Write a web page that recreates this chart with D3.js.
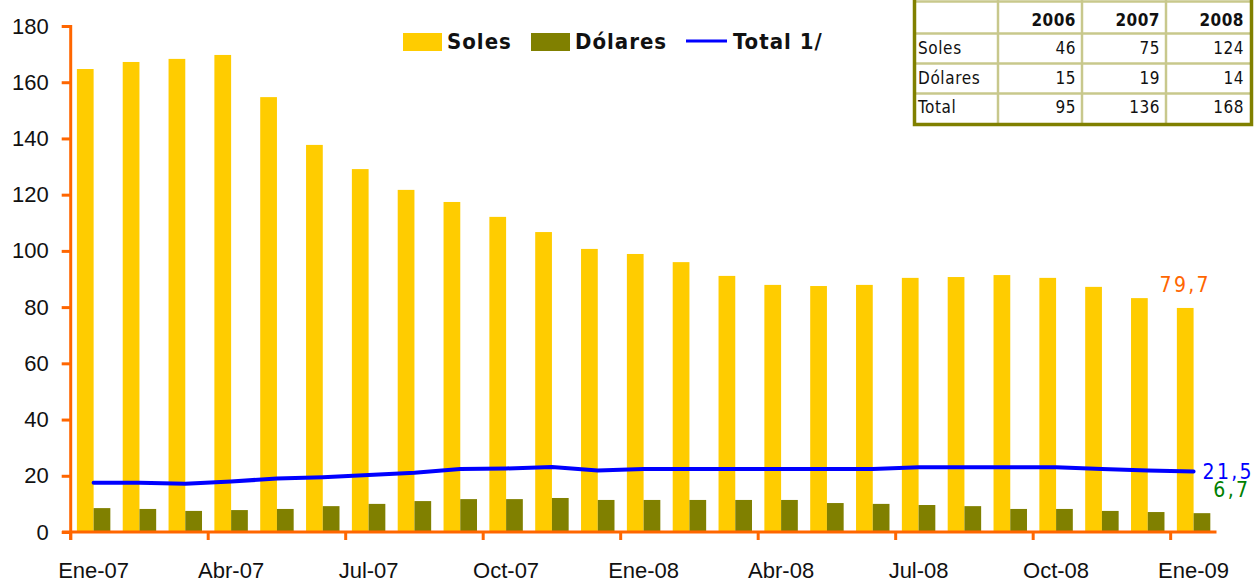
<!DOCTYPE html>
<html>
<head>
<meta charset="utf-8">
<script src="https://cdn.jsdelivr.net/npm/d3@7"></script>
<style>
    body { margin: 0; background: #fff; }
    svg { display: block; font-family: "DejaVu Sans Condensed", "DejaVu Sans", sans-serif; }
    .tick-label { font-size: 22px; fill: #111; }
    .legend-label { font-size: 22px; fill: #111; letter-spacing: 1px; }
    .end-label { font-size: 21px; letter-spacing: 2.3px; }
    .table-text { font-size: 17px; fill: #111; }
</style>
</head>
<body>
<div id="chart"></div>
<script>
// monthly balance, Ene-07 .. Ene-09
const months = ["Ene-07", "Feb-07", "Mar-07", "Abr-07", "May-07", "Jun-07", "Jul-07", "Ago-07", "Set-07",
    "Oct-07", "Nov-07", "Dic-07", "Ene-08", "Feb-08", "Mar-08", "Abr-08", "May-08", "Jun-08", "Jul-08",
    "Ago-08", "Set-08", "Oct-08", "Nov-08", "Dic-08", "Ene-09"];
const soles = [164.7, 167.2, 168.3, 169.7, 154.7, 137.7, 129.1, 121.7, 117.4, 112.1, 106.7, 100.7, 98.9,
    96.0, 91.1, 87.9, 87.5, 87.9, 90.4, 90.7, 91.4, 90.4, 87.2, 83.2, 79.7];
const dolares = [8.5, 8.2, 7.5, 7.8, 8.2, 9.2, 10.0, 11.0, 11.7, 11.7, 12.1, 11.4, 11.4, 11.4, 11.4, 11.4,
    10.3, 10.0, 9.6, 9.2, 8.2, 8.2, 7.5, 7.1, 6.7];
const total = [17.5, 17.5, 17.2, 18.0, 19.0, 19.5, 20.3, 21.1, 22.4, 22.6, 23.1, 21.9, 22.4, 22.4, 22.4,
    22.4, 22.4, 22.4, 23.0, 23.0, 23.0, 23.0, 22.4, 21.9, 21.5];
const yTicks = [0, 20, 40, 60, 80, 100, 120, 140, 160, 180];

// summary table (top right)
const tableYears = ["2006", "2007", "2008"];
const tableRows = ["Soles", "Dólares", "Total"];
const tableValues = [[46, 75, 124], [15, 19, 14], [95, 136, 168]];

class BarLineChart {
    constructor(_config) {
        this.config = {
            parentElement: _config.parentElement,
            containerWidth: _config.containerWidth || 1256,
            containerHeight: _config.containerHeight || 579,
        };
        this.colors = { soles: "#ffcc00", dolares: "#808000", total: "#0000ff", axis: "#ff6600" };
        this.initVis();
    }

    initVis() {
        let vis = this;
        vis.svg = d3.select(vis.config.parentElement)
            .append("svg")
            .attr("width", vis.config.containerWidth)
            .attr("height", vis.config.containerHeight);

        vis.x = d3.scaleBand()
            .domain(months)
            .range([70.7, 1216.5])
            .paddingInner(0.27)
            .paddingOuter(0.135);

        vis.xSeries = d3.scaleBand()
            .domain(["soles", "dolares"])
            .range([0, vis.x.bandwidth()]);

        vis.y = d3.scaleLinear().domain([0, 180]).range([532, 26]);

        vis.renderVis();
    }

    renderVis() {
        let vis = this;
        const rows = months.map((m, i) => ({ month: m, soles: soles[i], dolares: dolares[i], total: total[i] }));
        const fmt = d3.formatLocale({ decimal: ",", thousands: ".", grouping: [3], currency: ["", ""] }).format(".1f");
        const bw = vis.xSeries.bandwidth();
        const gap = (vis.x.step() - vis.x.bandwidth()) / 2;

        // bars
        ["soles", "dolares"].forEach((key) => {
            vis.svg.append("g").selectAll("rect").data(rows).join("rect")
                .attr("x", (d) => vis.x(d.month) + vis.xSeries(key))
                .attr("y", (d) => vis.y(d[key]))
                .attr("width", bw)
                .attr("height", (d) => vis.y(0) - vis.y(d[key]))
                .attr("fill", vis.colors[key]);
        });

        // total line
        const line = d3.line()
            .x((d) => vis.x(d.month) + vis.x.bandwidth() / 2)
            .y((d) => vis.y(d.total));
        vis.svg.append("path")
            .datum(rows)
            .attr("d", line)
            .attr("fill", "none")
            .attr("stroke", vis.colors.total)
            .attr("stroke-width", 4)
            .attr("stroke-linejoin", "round")
            .attr("stroke-linecap", "round");

        // y axis
        const yAxis = vis.svg.append("g")
            .attr("transform", "translate(70.7,0)")
            .call(d3.axisLeft(vis.y).tickValues(yTicks).tickSize(9).tickPadding(13).tickFormat(d3.format("d")));
        yAxis.select(".domain").remove();
        yAxis.selectAll(".tick line").attr("stroke", vis.colors.axis).attr("stroke-width", 3);
        yAxis.selectAll(".tick text").attr("class", "tick-label").attr("font-size", null).attr("font-family", null);
        vis.svg.append("line")
            .attr("x1", 70.7).attr("x2", 70.7)
            .attr("y1", vis.y(180) - 1).attr("y2", vis.y(0) + 8)
            .attr("stroke", vis.colors.axis).attr("stroke-width", 3);

        // x axis
        const quarterMonths = months.filter((m, i) => i % 3 === 0);
        const xAxis = vis.svg.append("g")
            .attr("transform", `translate(0,${vis.y(0)})`)
            .call(d3.axisBottom(vis.x).tickValues(quarterMonths).tickSize(0).tickPadding(30));
        xAxis.select(".domain").remove();
        xAxis.selectAll(".tick text").attr("class", "tick-label").attr("font-size", null).attr("font-family", null);
        vis.svg.append("line")
            .attr("x1", 62).attr("x2", vis.x.range()[1])
            .attr("y1", vis.y(0)).attr("y2", vis.y(0))
            .attr("stroke", vis.colors.axis).attr("stroke-width", 3);
        vis.svg.append("g").selectAll("line").data(quarterMonths).join("line")
            .attr("x1", (d) => vis.x(d) - gap)
            .attr("x2", (d) => vis.x(d) - gap)
            .attr("y1", vis.y(0))
            .attr("y2", vis.y(0) + 8)
            .attr("stroke", vis.colors.axis)
            .attr("stroke-width", 3);

        // end labels
        const last = rows[rows.length - 1];
        vis.svg.append("text").attr("class", "end-label")
            .attr("x", vis.x(last.month) + vis.xSeries("soles") + bw / 2)
            .attr("y", vis.y(last.soles) - 16)
            .attr("text-anchor", "middle")
            .style("fill", vis.colors.axis)
            .text(fmt(last.soles));
        vis.svg.append("text").attr("class", "end-label")
            .attr("x", vis.x(last.month) + vis.x.bandwidth() / 2 + 9)
            .attr("y", vis.y(last.total) + 7.5)
            .style("fill", vis.colors.total)
            .text(fmt(last.total));
        vis.svg.append("text").attr("class", "end-label")
            .attr("x", vis.x(last.month) + vis.x.bandwidth() + 3)
            .attr("y", vis.y(last.dolares) - 16)
            .style("fill", "#008000")
            .text(fmt(last.dolares));

        // legend
        const legendItems = [
            { label: "Soles", key: "soles", x: 403 },
            { label: "Dólares", key: "dolares", x: 531 },
            { label: "Total 1/", key: "total", x: 686 },
        ];
        const legend = vis.svg.selectAll(".legend-item").data(legendItems).join("g")
            .attr("class", "legend-item")
            .attr("transform", (d) => `translate(${d.x},33)`);
        legend.filter((d) => d.key !== "total").append("rect")
            .attr("width", 39).attr("height", 18)
            .attr("fill", (d) => vis.colors[d.key]);
        legend.filter((d) => d.key === "total").append("line")
            .attr("x1", 0).attr("x2", 41).attr("y1", 8).attr("y2", 8)
            .attr("stroke", vis.colors.total).attr("stroke-width", 3);
        legend.append("text")
            .attr("class", "legend-label")
            .attr("x", (d) => d.key === "total" ? 47 : 44)
            .attr("y", 16)
            .style("font-weight", 700)
            .text((d) => d.label);

        vis.renderTable();
    }

    renderTable() {
        let vis = this;
        const colX = [916, 998, 1082, 1166, 1250];
        const rowY = [1.5, 33.5, 63.5, 93.5, 124.5];
        const g = vis.svg.append("g");

        g.append("rect")
            .attr("x", colX[0]).attr("y", 0)
            .attr("width", colX[4] - colX[0]).attr("height", rowY[4])
            .attr("fill", "#fff");

        g.selectAll(".grid-h").data(rowY.slice(0, 4)).join("line")
            .attr("x1", colX[0]).attr("x2", colX[4])
            .attr("y1", (d) => d).attr("y2", (d) => d)
            .attr("stroke", "#c8c88c").attr("stroke-width", 2.5);
        g.selectAll(".grid-v").data(colX.slice(1, 4)).join("line")
            .attr("x1", (d) => d).attr("x2", (d) => d)
            .attr("y1", 0).attr("y2", rowY[4])
            .attr("stroke", "#c8c88c").attr("stroke-width", 2.5);

        // outer olive frame: left, right, bottom
        g.append("path")
            .attr("d", `M${colX[0] - 1.5},0 V${rowY[4]} H${colX[4] + 1.5} V0`)
            .attr("fill", "none")
            .attr("stroke", "#808000")
            .attr("stroke-width", 3.5);

        g.selectAll(".year").data(tableYears).join("text")
            .attr("class", "table-text")
            .attr("x", (d, i) => colX[i + 2] - 6)
            .attr("y", 26)
            .attr("text-anchor", "end")
            .style("font-weight", 700)
            .style("letter-spacing", "0.5px")
            .text((d) => d);

        const baselines = [54, 83.5, 113];
        tableRows.forEach((name, r) => {
            g.append("text").attr("class", "table-text")
                .attr("x", colX[0] + 2).attr("y", baselines[r])
                .style("letter-spacing", "0.6px")
                .text(name);
            g.selectAll(`.val-${r}`).data(tableValues[r]).join("text")
                .attr("class", "table-text")
                .attr("x", (d, i) => colX[i + 2] - 6)
                .attr("y", baselines[r])
                .attr("text-anchor", "end")
                .style("letter-spacing", "0.5px")
                .text((d) => d);
        });
    }
}

new BarLineChart({ parentElement: "#chart" });
</script>
</body>
</html>
